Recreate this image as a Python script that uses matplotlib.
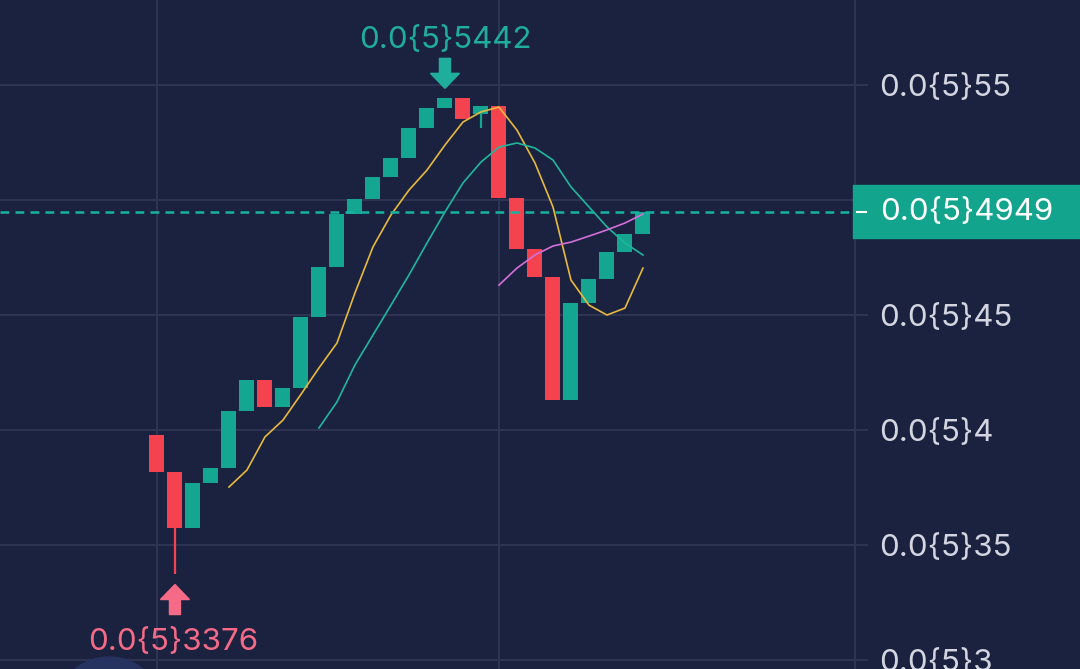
import matplotlib.pyplot as plt
import matplotlib.patches as mpatches
import matplotlib.transforms as mtransforms
from matplotlib.lines import Line2D

# prices are given as the digits after "0.0{5}", e.g. 0.5442 -> 0.0{5}5442
opens = [0.3978, 0.3817, 0.3574, 0.3770, 0.3835, 0.4083, 0.4217, 0.4100,
         0.4183, 0.4491, 0.4709, 0.4939, 0.5004, 0.5100, 0.5183, 0.5313,
         0.5400, 0.5442, 0.5374, 0.5409, 0.5009, 0.4787, 0.4665, 0.4130,
         0.4552, 0.4657, 0.4774, 0.4852]
closes = [0.3817, 0.3574, 0.3770, 0.3835, 0.4083, 0.4217, 0.4100, 0.4183,
          0.4491, 0.4709, 0.4939, 0.5004, 0.5100, 0.5183, 0.5313, 0.5400,
          0.5442, 0.5352, 0.5409, 0.5009, 0.4787, 0.4665, 0.4130, 0.4552,
          0.4657, 0.4774, 0.4852, 0.4949]
highs = [0.3978, 0.3817, 0.3770, 0.3835, 0.4083, 0.4217, 0.4217, 0.4183,
         0.4491, 0.4709, 0.4939, 0.5004, 0.5100, 0.5183, 0.5313, 0.5400,
         0.5442, 0.5442, 0.5409, 0.5409, 0.5009, 0.4787, 0.4665, 0.4552,
         0.4657, 0.4774, 0.4852, 0.4949]
lows = [0.3817, 0.3376, 0.3574, 0.3770, 0.3835, 0.4083, 0.4100, 0.4100,
        0.4183, 0.4491, 0.4709, 0.4939, 0.5004, 0.5100, 0.5183, 0.5313,
        0.5400, 0.5352, 0.5313, 0.5009, 0.4787, 0.4665, 0.4130, 0.4130,
        0.4552, 0.4657, 0.4774, 0.4852]

# moving averages (start index, values)
ma_fast_start = 4
ma_fast = [0.3752, 0.3826, 0.3970, 0.4043, 0.4155, 0.4270, 0.4378, 0.4596,
           0.4796, 0.4935, 0.5043, 0.5130, 0.5239, 0.5339, 0.5383, 0.5404,
           0.5304, 0.5161, 0.4970, 0.4652, 0.4543, 0.4500, 0.4530, 0.4704]
ma_slow_start = 9
ma_slow = [0.4009, 0.4122, 0.4283, 0.4413, 0.4543, 0.4674, 0.4813, 0.4948,
           0.5074, 0.5165, 0.5230, 0.5248, 0.5226, 0.5174, 0.5057, 0.4970,
           0.4883, 0.4813, 0.4761]
ma_long_start = 19
ma_long = [0.4630, 0.4704, 0.4761, 0.4800, 0.4817, 0.4843, 0.4870, 0.4900,
           0.4939]

y_ticks = [0.30, 0.35, 0.40, 0.45, 0.50, 0.55]
x_grid = [0, 19]
current_price = 0.4949
max_idx, max_price = 16, 0.5442
min_idx, min_price = 1, 0.3376

BG = '#1b2240'
GRID = '#2e3352'
UP = '#14a690'
DOWN = '#f4434f'
LABEL = '#d3d6e0'
FS = 22.5

plt.rcParams['font.family'] = ['Inter', 'DejaVu Sans']


def fmt(v):
    s = f"{v:.4f}".rstrip('0')
    return "0.0{5}" + s[2:]


fig = plt.figure(figsize=(10.8, 6.69), dpi=100, facecolor=BG)
ax = fig.add_axes([0, 0, 855 / 1080, 1])
ax.set_facecolor(BG)
ax.set_xlim(-8.72, 38.78)
ax.set_ylim(0.29609, 0.58696)

for s in ['left', 'top', 'bottom']:
    ax.spines[s].set_visible(False)
ax.spines['right'].set_color(GRID)
ax.spines['right'].set_linewidth(1.5)

ax.yaxis.tick_right()
ax.set_yticks(y_ticks)
ax.set_yticklabels(['' if abs(t - 0.50) < 1e-9 else fmt(t) for t in y_ticks])
ax.tick_params(axis='y', length=9.5, width=1.5, color=GRID, pad=8,
               labelsize=FS, labelcolor=LABEL)
ax.set_xticks([])
for t in y_ticks:
    ax.axhline(t, color=GRID, lw=1.5, zorder=0)
for g in x_grid:
    ax.axvline(g, color=GRID, lw=1.5, zorder=0)

# candles
xs = list(range(len(opens)))
colors = [UP if c >= o else DOWN for o, c in zip(opens, closes)]
bottoms = [min(o, c) for o, c in zip(opens, closes)]
heights = [abs(c - o) for o, c in zip(opens, closes)]
ax.vlines(xs, lows, highs, colors=colors, lw=1.6, zorder=2)
ax.bar(xs, heights, bottom=bottoms, width=0.83, color=colors, zorder=3)

# moving averages
ax.plot(range(ma_fast_start, ma_fast_start + len(ma_fast)), ma_fast,
        color='#e7b93c', lw=1.2, zorder=4)
ax.plot(range(ma_slow_start, ma_slow_start + len(ma_slow)), ma_slow,
        color='#1fb79c', lw=1.2, zorder=4)
ax.plot(range(ma_long_start, ma_long_start + len(ma_long)), ma_long,
        color='#d46fd8', lw=1.2, zorder=4)

# current price line
ax.axhline(current_price, color='#17b3a0', lw=1.8, ls=(0, (3.5, 2.5)), zorder=5)

pix = mtransforms.IdentityTransform()


def arrow(xp, yp, direction, color):
    # direction: -1 points down (placed above), +1 points up (placed below)
    d = -direction
    tip = yp + d * 10
    base = tip + d * 15
    end = base + d * 15
    pts = [(xp, tip), (xp - 14.5, base), (xp - 5.5, base), (xp - 5.5, end),
           (xp + 5.5, end), (xp + 5.5, base), (xp + 14.5, base)]
    fig.patches.append(mpatches.Polygon(pts, closed=True, color=color,
                                        transform=pix, figure=fig))


hx, hy = ax.transData.transform((max_idx, max_price))
arrow(hx, hy, -1, '#1fae9c')
fig.text(hx, hy + 58, fmt(max_price), transform=pix, color='#1fae9c',
         fontsize=FS, ha='center', va='center')

lx, ly = ax.transData.transform((min_idx, min_price))
arrow(lx, ly - 1, 1, '#f56b87')
fig.text(lx - 2, ly - 68, fmt(min_price), transform=pix, color='#f56b87',
         fontsize=FS, ha='center', va='center')

# current price tag on the axis
_, py = ax.transData.transform((0, current_price))
fig.patches.append(mpatches.Rectangle((853, py - 26.5), 230, 53, color='#12a48d',
                                      transform=pix, figure=fig, zorder=5))
fig.lines.append(Line2D([857, 866], [py, py], color='white', lw=1.5,
                        transform=pix, figure=fig, zorder=6))
fig.text(880, py, fmt(current_price), transform=pix, color='white',
         fontsize=FS, ha='left', va='center', zorder=7)

# faint ui button at the bottom left
fig.patches.append(mpatches.Circle((109, -42), 54, color='#263260',
                                   transform=pix, figure=fig, zorder=1))

fig.savefig('out.png', dpi=100, facecolor=BG)
